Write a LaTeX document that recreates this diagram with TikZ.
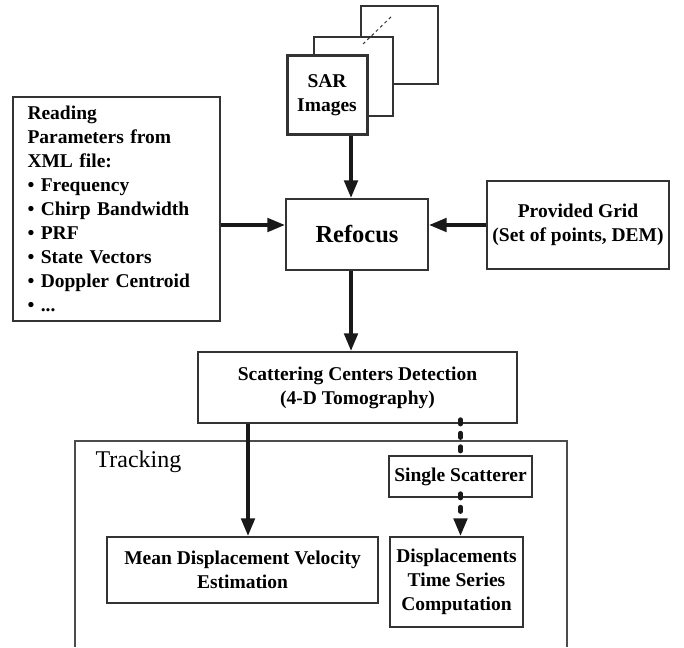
\documentclass[tikz,border=0pt]{standalone}
\usepackage{fontspec}
\setmainfont{Liberation Serif}
\usetikzlibrary{arrows.meta}

\begin{document}
\begin{tikzpicture}
  [x=1pt,y=-1pt,
   every node/.style={draw=black!80,line width=1.2pt,fill=white,inner sep=0pt,align=center,
     font=\fontsize{19.5}{24}\selectfont\bfseries},
   arr/.style={line width=4.5pt,draw=black!90,-{Triangle[length=18pt,width=13pt]}},
   dline/.style={line width=4.5pt,draw=black!90,dash pattern=on 4.5pt off 9pt,line cap=round},
   darr/.style={arr,dline}]
\useasboundingbox (0,0) rectangle (684,647);
  % pila de imagenes SAR
  \node[minimum width=77pt,minimum height=78pt] (sar3) at (399.5,45) {};
  \node[line width=2.2pt,minimum width=79pt,minimum height=79pt] (sar2) at (353.5,76.5) {};
  \draw[black!80,line width=1pt,dashed] (363,44) -- (393,15);
  \node[line width=3pt,minimum width=80pt,minimum height=79pt] (sar) at (327,95.5) {SAR\\Images};

  % bloques principales
  \node[minimum height=224pt,text width=178pt,inner xsep=14.5pt,align=left] (reading) at (116.5,209)
    {Reading\\Parameters from\\XML file:\\\textbullet{} Frequency\\\textbullet{} Chirp Bandwidth\\
     \textbullet{} PRF\\\textbullet{} State Vectors\\\textbullet{} Doppler Centroid\\\textbullet{} ...};
  \node[minimum width=142pt,minimum height=71pt,font=\fontsize{24.5}{28}\selectfont\bfseries] (refocus) at (357,234.5) {Refocus};
  \node[minimum width=182pt,minimum height=88pt] (grid) at (578,225) {Provided Grid\\(Set of points, DEM)};
  \node[minimum width=319pt,minimum height=71pt] (scatter) at (357.5,387.5) {Scattering Centers Detection\\(4-D Tomography)};

  % recuadro de seguimiento (abierto abajo)
  \draw[black!70,line width=1.2pt] (75,647) |- (567,441) -- (567,647);
  \node[draw=none,fill=none,anchor=west,font=\fontsize{24}{28}\selectfont] (track) at (95,462) {Tracking};
  \node[minimum width=271pt,minimum height=66pt] (mean) at (242.5,570) {Mean Displacement Velocity\\Estimation};
  \node[minimum width=143pt,minimum height=41pt] (single) at (460.5,476.5) {Single Scatterer};
  \node[minimum width=133pt,minimum height=90pt] (disp) at (456.5,582) {Displacements\\Time Series\\Computation};

  % flechas
  \draw[arr] ([xshift=-6pt]refocus.north |- sar.south) -- ([xshift=-6pt]refocus.north);
  \draw[arr] (reading.east |- grid.west) -- (refocus.west |- grid.west);
  \draw[arr] (grid.west) -- (refocus.east |- grid.west);
  \draw[arr] ([xshift=-6pt]refocus.south) -- ([xshift=-6pt]refocus.south |- scatter.north);
  \draw[arr] ([xshift=5.5pt]mean.north |- scatter.south) -- ([xshift=5.5pt]mean.north);
  \draw[dline] ([yshift=4pt]single.north |- scatter.south) -- ([yshift=-3pt]single.north);
  \draw[darr] ([yshift=4pt]single.south) -- (single.south |- disp.north);
\end{tikzpicture}
\end{document}
